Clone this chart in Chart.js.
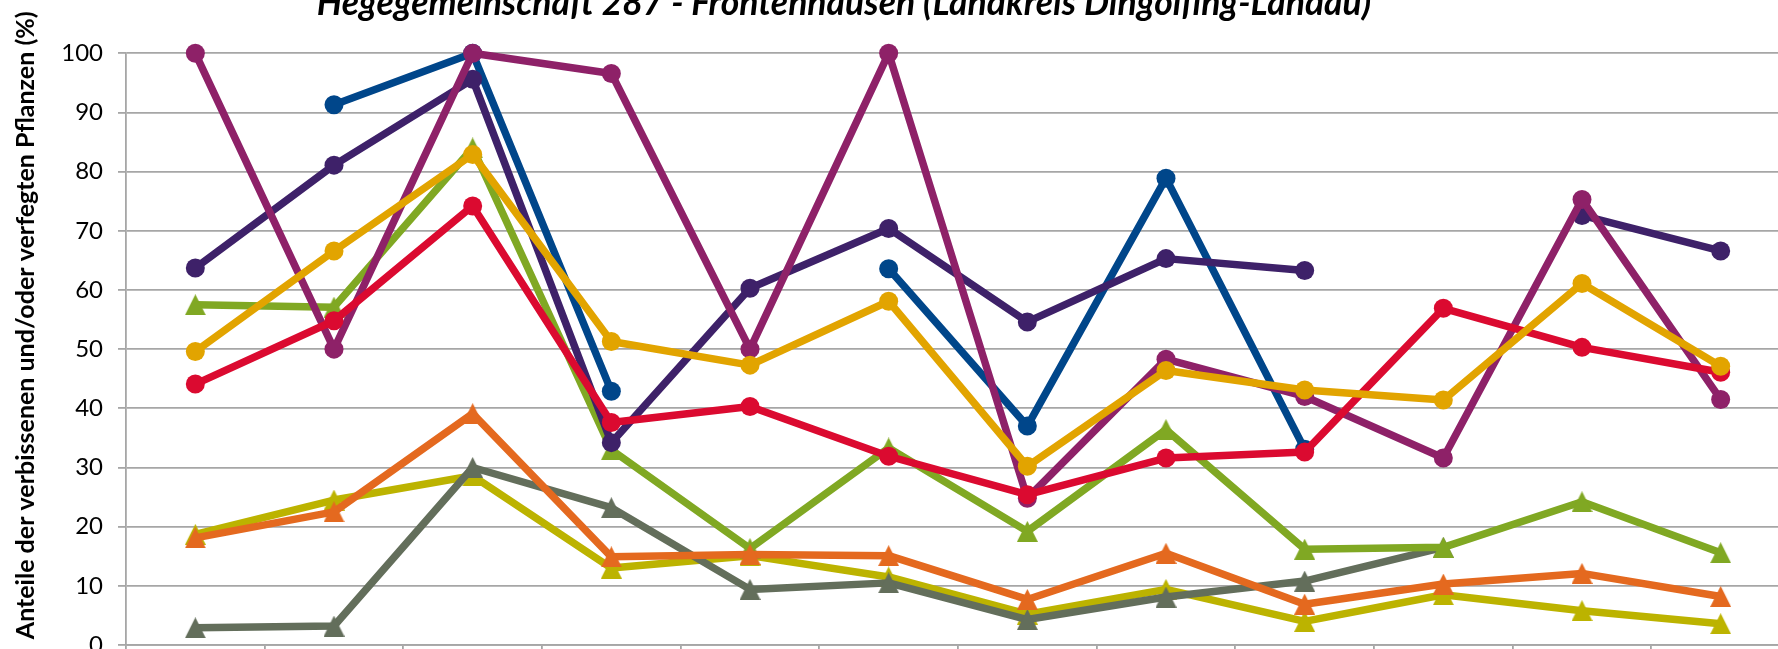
<!DOCTYPE html>
<html>
<head>
<meta charset="utf-8">
<script src="https://cdn.jsdelivr.net/npm/chart.js@4.4.1/dist/chart.umd.min.js"></script>
<style>
  html, body { margin: 0; padding: 0; background: #fff; overflow: hidden; }
  #frame { position: relative; width: 1778px; height: 649px; overflow: hidden; background: #fff; }
  #chart { position: absolute; left: -104px; top: -30px; }
</style>
</head>
<body>
<div id="frame"><canvas id="chart" width="1904" height="720"></canvas></div>
<script>
// Chart data (in %)
var chartTitle = 'Hegegemeinschaft 287 - Frontenhausen (Landkreis Dingolfing-Landau)';
var yTitle = 'Anteile der verbissenen und/oder verfegten Pflanzen (%)';
var years = ['1991', '1994', '1997', '2000', '2003', '2006', '2009', '2012', '2015', '2018', '2021', '2024'];

var blueValues    = [null, 91.3, 100, 42.9, null, 63.6, 37.0, 78.9, 33.1, null, null, null];
var purpleValues  = [63.7, 81.1, 95.6, 34.2, 60.3, 70.4, 54.6, 65.3, 63.3, null, 72.6, 66.6];
var magentaValues = [100, 50.0, 100, 96.6, 50.0, 100, 24.8, 48.3, 42.0, 31.6, 75.3, 41.5];
var goldValues    = [49.6, 66.6, 82.9, 51.3, 47.3, 58.1, 30.2, 46.4, 43.1, 41.4, 61.1, 47.1];
var redValues     = [44.1, 54.8, 74.2, 37.6, 40.3, 31.9, 25.4, 31.6, 32.6, 56.9, 50.3, 46.1];
var greenValues   = [57.5, 57.1, 84.0, 33.0, 16.3, 33.3, 19.2, 36.4, 16.2, 16.5, 24.2, 15.6];
var orangeValues  = [18.1, 22.5, 39.1, 14.9, 15.3, 15.1, 7.7, 15.5, 6.9, 10.3, 12.1, 8.2];
var oliveValues   = [18.7, 24.5, 28.6, 13.0, 15.1, 11.5, 5.2, 9.4, 4.0, 8.5, 5.8, 3.6];
var grayValues    = [2.9, 3.2, 30.0, 23.2, 9.4, 10.5, 4.3, 8.1, 10.8, 16.5, null, null];

var gridColor = '#A6A6A6';

// Excel-like triangle marker (centred in its box)
function triangleMarker(color, size) {
    var c = document.createElement('canvas');
    c.width = size;
    c.height = size;
    var g = c.getContext('2d');
    g.fillStyle = color;
    g.beginPath();
    g.moveTo(size / 2, 0);
    g.lineTo(size, size);
    g.lineTo(0, size);
    g.closePath();
    g.fill();
    return c;
}

function circleSeries(label, values, color) {
    return {
        label: label,
        data: values,
        borderColor: color,
        backgroundColor: color,
        borderWidth: 7.5,
        pointRadius: 9.5,
        pointBorderWidth: 0,
        pointStyle: 'circle',
        borderJoinStyle: 'round',
        borderCapStyle: 'round',
        tension: 0,
        clip: false
    };
}

function triangleSeries(label, values, color) {
    return {
        label: label,
        data: values,
        borderColor: color,
        backgroundColor: color,
        borderWidth: 7.5,
        pointRadius: 10,
        pointBorderWidth: 0,
        pointStyle: triangleMarker(color, 21),
        borderJoinStyle: 'round',
        borderCapStyle: 'round',
        tension: 0,
        clip: false
    };
}

// Rotated y axis title, placed like in the original
var yTitlePlugin = {
    id: 'yTitle',
    afterDraw: function(chart) {
        var ctx = chart.ctx;
        ctx.save();
        ctx.translate(chart.chartArea.left - 100, chart.chartArea.top + 272);
        ctx.rotate(-Math.PI / 2);
        ctx.font = 'bold 25px Lato';
        ctx.fillStyle = '#000';
        ctx.textAlign = 'center';
        ctx.textBaseline = 'middle';
        ctx.fillText(yTitle, 0, 0);
        ctx.restore();
    }
};

// first dataset is drawn on top
var datasets = [
    circleSeries('Serie 4', goldValues, '#E2A400'),
    circleSeries('Serie 5', redValues, '#DB0A30'),
    circleSeries('Serie 3', magentaValues, '#8E2168'),
    circleSeries('Serie 2', purpleValues, '#3E2169'),
    circleSeries('Serie 1', blueValues, '#00468A'),
    triangleSeries('Serie 7', orangeValues, '#E4691F'),
    triangleSeries('Serie 6', greenValues, '#80A823'),
    triangleSeries('Serie 9', grayValues, '#636E5B'),
    triangleSeries('Serie 8', oliveValues, '#BCB300')
];

new Chart(document.getElementById('chart'), {
    type: 'line',
    data: {
        labels: years,
        datasets: datasets
    },
    options: {
        responsive: false,
        animation: false,
        layout: {
            padding: { left: 0, right: 8, top: 0, bottom: 0 }
        },
        plugins: {
            legend: { display: false },
            tooltip: { enabled: false },
            title: {
                display: true,
                text: chartTitle,
                color: '#000',
                font: { family: 'Lato', size: 35.5, weight: 'bold', style: 'italic', lineHeight: 1.2 },
                padding: { top: 12.5, bottom: 28.2 }
            }
        },
        scales: {
            x: {
                offset: true,
                grid: {
                    offset: true,
                    drawOnChartArea: false,
                    color: gridColor,
                    lineWidth: 1.8,
                    tickLength: 8
                },
                border: { color: gridColor, width: 1.8 },
                ticks: {
                    color: '#000',
                    font: { family: 'Lato', size: 24 },
                    autoSkip: false,
                    maxRotation: 0
                },
                afterFit: function(scale) {
                    scale.height = 45;
                }
            },
            y: {
                min: 0,
                max: 100,
                ticks: {
                    stepSize: 10,
                    color: '#000',
                    font: { family: 'Lato', size: 24 },
                    padding: 15
                },
                grid: { color: gridColor, lineWidth: 1.8, tickLength: 8 },
                border: { color: gridColor, width: 1.8 },
                afterFit: function(scale) {
                    scale.width = 230;
                }
            }
        }
    },
    plugins: [yTitlePlugin]
});
</script>
</body>
</html>
